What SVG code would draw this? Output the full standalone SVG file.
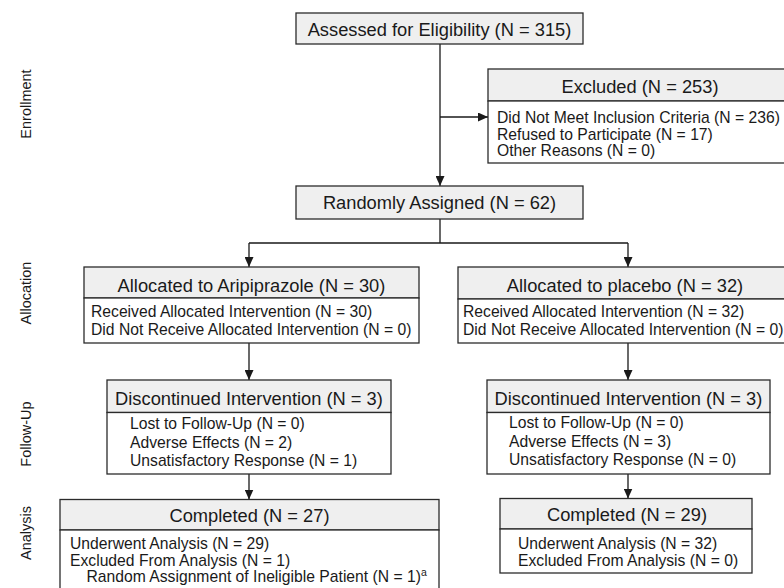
<svg xmlns="http://www.w3.org/2000/svg" width="784" height="588" viewBox="0 0 784 588">
<style>
text{font-family:"Liberation Sans",Arial,Helvetica,sans-serif;fill:#1a1a1a}
.h{font-size:18.3px;text-anchor:middle}
.b{font-size:15.7px}
.s{font-size:14.5px;text-anchor:middle}
.hd{fill:#efefef;stroke:#2b2b2b;stroke-width:1.3}
.bd{fill:#ffffff;stroke:#2b2b2b;stroke-width:1.3}
.c{fill:none;stroke:#1a1a1a;stroke-width:1.3}
.a{marker-end:url(#arr)}
</style>
<defs>
<marker id="arr" markerUnits="userSpaceOnUse" markerWidth="10" markerHeight="9" refX="10" refY="4.5" orient="auto">
<path d="M0,0 L10,4.5 L0,9 Z" fill="#1a1a1a"/>
</marker>
</defs>
<rect width="784" height="588" fill="#ffffff"/>

<g id="phase-labels">
<text class="s" transform="translate(30.5,104) rotate(-90)">Enrollment</text>
<text class="s" transform="translate(30.5,293) rotate(-90)">Allocation</text>
<text class="s" transform="translate(30.5,434) rotate(-90)">Follow-Up</text>
<text class="s" transform="translate(30.5,533) rotate(-90)">Analysis</text>
</g>

<g id="connectors">
<path class="c a" d="M440,44 V186"/>
<path class="c a" d="M440,117 H488"/>
<path class="c" d="M440,219 V243 M249,243 H628"/>
<path class="c a" d="M249,243 V267"/>
<path class="c a" d="M628,243 V267"/>
<path class="c a" d="M249,343 V380"/>
<path class="c a" d="M628,343 V380"/>
<path class="c a" d="M249,474 V499.5"/>
<path class="c a" d="M628,474 V498.5"/>
</g>

<g id="assessed">
<rect class="hd" x="296" y="13" width="287" height="31"/>
<text class="h" x="439.5" y="35.5">Assessed for Eligibility (N = 315)</text>
</g>

<g id="excluded">
<rect class="hd" x="488" y="69" width="304" height="32"/>
<rect class="bd" x="488" y="101" width="304" height="62"/>
<text class="h" x="640" y="92.5">Excluded (N = 253)</text>
<text class="b" x="497" y="123">Did Not Meet Inclusion Criteria (N = 236)</text>
<text class="b" x="497" y="139.5">Refused to Participate (N = 17)</text>
<text class="b" x="497" y="156">Other Reasons (N = 0)</text>
</g>

<g id="randomized">
<rect class="hd" x="296" y="186" width="287" height="33"/>
<text class="h" x="439.5" y="209">Randomly Assigned (N = 62)</text>
</g>

<g id="alloc-aripiprazole">
<rect class="hd" x="84" y="267" width="335" height="31"/>
<rect class="bd" x="84" y="298" width="335" height="45"/>
<text class="h" x="251.5" y="292">Allocated to Aripiprazole (N = 30)</text>
<text class="b" x="91" y="317">Received Allocated Intervention (N = 30)</text>
<text class="b" x="91" y="335">Did Not Receive Allocated Intervention (N = 0)</text>
</g>

<g id="alloc-placebo">
<rect class="hd" x="458" y="267" width="334" height="32"/>
<rect class="bd" x="458" y="299" width="334" height="44"/>
<text class="h" x="625" y="292">Allocated to placebo (N = 32)</text>
<text class="b" x="463" y="317">Received Allocated Intervention (N = 32)</text>
<text class="b" x="463" y="335">Did Not Receive Allocated Intervention (N = 0)</text>
</g>

<g id="followup-aripiprazole">
<rect class="hd" x="107" y="380" width="284" height="32.5"/>
<rect class="bd" x="107" y="412.5" width="284" height="61.5"/>
<text class="h" x="249" y="404.5">Discontinued Intervention (N = 3)</text>
<text class="b" x="130" y="429">Lost to Follow-Up (N = 0)</text>
<text class="b" x="130" y="447.5">Adverse Effects (N = 2)</text>
<text class="b" x="130" y="466">Unsatisfactory Response (N = 1)</text>
</g>

<g id="followup-placebo">
<rect class="hd" x="487" y="380" width="283" height="32.5"/>
<rect class="bd" x="487" y="412.5" width="283" height="61.5"/>
<text class="h" x="628.5" y="404.5">Discontinued Intervention (N = 3)</text>
<text class="b" x="509" y="428">Lost to Follow-Up (N = 0)</text>
<text class="b" x="509" y="446.5">Adverse Effects (N = 3)</text>
<text class="b" x="509" y="465">Unsatisfactory Response (N = 0)</text>
</g>

<g id="analysis-aripiprazole">
<rect class="hd" x="60" y="499.5" width="379" height="30.5"/>
<rect class="bd" x="60" y="530" width="379" height="70"/>
<text class="h" x="249.5" y="521.5">Completed (N = 27)</text>
<text class="b" x="70" y="549">Underwent Analysis (N = 29)</text>
<text class="b" x="70" y="566">Excluded From Analysis (N = 1)</text>
<text class="b" x="86.5" y="582">Random Assignment of Ineligible Patient (N = 1)<tspan font-size="10.5" dy="-6">a</tspan></text>
</g>

<g id="analysis-placebo">
<rect class="hd" x="500" y="498.5" width="252" height="30.5"/>
<rect class="bd" x="500" y="529" width="252" height="44"/>
<text class="h" x="627" y="520.5">Completed (N = 29)</text>
<text class="b" x="518" y="548.5">Underwent Analysis (N = 32)</text>
<text class="b" x="518" y="566">Excluded From Analysis (N = 0)</text>
</g>
</svg>
